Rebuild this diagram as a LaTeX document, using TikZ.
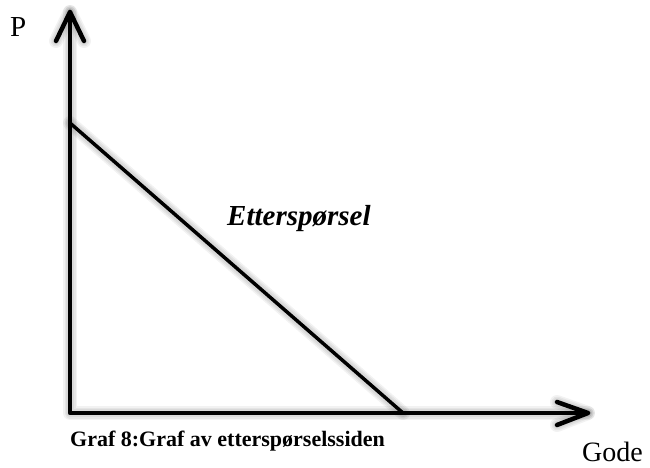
\documentclass[tikz,border=0pt]{standalone}
\usepackage{fontspec}
\setmainfont{Liberation Serif}
\usetikzlibrary{calc}
\tikzset{
  axisline/.style={line width=4.5pt, line cap=round, line join=round, draw=black},
  demandline/.style={line width=3.5pt, line cap=round, draw=black},
  shadowline/.style={line width=#1, line cap=round, line join=round, draw=black, opacity=0.05},
  lbl/.style={inner sep=0pt, anchor=base west},
}
\begin{document}
\begin{tikzpicture}[x=1pt, y=-1pt]
  \useasboundingbox (0,0) rectangle (650,468);
  \fill[white] (0,0) rectangle (650,468);
  % key points
  \coordinate (O) at (70,413);
  \coordinate (Ytip) at (70,12);
  \coordinate (Xtip) at (588,413);
  \coordinate (A) at (70,123);
  \coordinate (B) at (403,413);
  \coordinate (Yl) at ($(Ytip)+(-14,29)$);
  \coordinate (Yr) at ($(Ytip)+(14,29)$);
  \coordinate (Xu) at ($(Xtip)+(-31,-11)$);
  \coordinate (Xd) at ($(Xtip)+(-31,12)$);
  % soft shadows
  \foreach \w in {14pt,11pt,8pt} {
    \begin{scope}[shift={(3,3)}]
      \draw[shadowline=\w] (Ytip) -- (O) -- (Xtip);
      \draw[shadowline=\w] (Yl) -- (Ytip) -- (Yr);
      \draw[shadowline=\w] (Xu) -- (Xtip) -- (Xd);
      \draw[shadowline=\w] (A) -- (B);
    \end{scope}
  }
  % axes
  \draw[axisline] (Ytip) -- (O) -- (Xtip);
  \draw[axisline] (Yl) -- (Ytip) -- (Yr);
  \draw[axisline] (Xu) -- (Xtip) -- (Xd);
  % demand curve
  \draw[demandline] (A) -- (B);
  % labels
  \node[lbl, font=\fontsize{29}{33}\selectfont] (plbl) at (10,37) {P};
  \node[lbl, font=\fontsize{29}{33}\selectfont\bfseries\itshape] (dlbl) at (227,225) {Etterspørsel};
  \node[lbl, font=\fontsize{22}{26}\selectfont\bfseries] (cap) at (70,446) {Graf 8:Graf av etterspørselssiden};
  \node[lbl, font=\fontsize{28}{32}\selectfont] (glbl) at (582,461) {Gode};
\end{tikzpicture}
\end{document}
